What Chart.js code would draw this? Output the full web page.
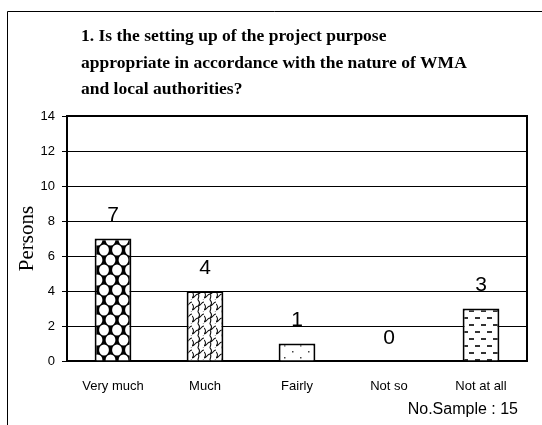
<!DOCTYPE html>
<html><head><meta charset="utf-8">
<script src="https://cdn.jsdelivr.net/npm/chart.js@4"></script>
<style>html,body{margin:0;padding:0;background:#fff;overflow:hidden}#wrap{position:absolute;left:0;top:0;width:542px;height:425px}</style>
</head><body><div id="wrap"><canvas id="c" width="542" height="425"></canvas></div>
<script>
const categories = ['Very much', 'Much', 'Fairly', 'Not so', 'Not at all'];
const persons = [7, 4, 1, 0, 3];
const yTicks = [0, 2, 4, 6, 8, 10, 12, 14];
const titleLines = ['1. Is the setting up of the project purpose', 'appropriate in accordance with the nature of WMA', 'and local authorities?'];
const yAxisTitle = 'Persons';
const sampleNote = 'No.Sample : 15';

const canvas = document.getElementById('c');
const ctx = canvas.getContext('2d');

function makePattern(w, h, draw) {
  const c = document.createElement('canvas');
  c.width = w; c.height = h;
  const g = c.getContext('2d');
  g.fillStyle = '#fff'; g.fillRect(0, 0, w, h);
  draw(g);
  return ctx.createPattern(c, 'repeat');
}
const patDiamond = makePattern(13, 20, g => {
  g.fillStyle = '#000'; g.fillRect(0, 0, 13, 20);
  g.fillStyle = '#fff';
  [[6.5,0],[0,10],[13,10],[6.5,20]].forEach(p => {
    g.beginPath(); g.ellipse(p[0], p[1], 4.9, 5.6, 0, 0, Math.PI * 2); g.fill();
  });
});
const patWeave = makePattern(12, 12, g => {
  g.strokeStyle = '#111'; g.lineWidth = 1.1;
  g.beginPath();
  g.moveTo(0, 10); g.bezierCurveTo(3, 10, 3, 6, 6, 6); g.bezierCurveTo(9, 6, 9, 2, 12, 2);
  g.moveTo(-6, 4); g.bezierCurveTo(-3, 4, -3, 0, 0, 0);
  g.moveTo(6, 16); g.bezierCurveTo(9, 16, 9, 12, 12, 12);
  g.moveTo(0, 4); g.bezierCurveTo(2, 6, 2, 8, 0, 10);
  g.moveTo(6, 6); g.bezierCurveTo(8, 8, 6, 10, 6, 12);
  g.moveTo(6, 0); g.bezierCurveTo(8, 2, 8, 4, 6, 6);
  g.stroke();
});
const patDots = makePattern(16, 12, g => {
  g.fillStyle = '#444';
  g.fillRect(4, 3, 1.5, 1.5); g.fillRect(12, 9, 1.5, 1.5);
});
const patDash = makePattern(12, 14, g => {
  g.fillStyle = '#333';
  g.fillRect(1, 2, 5, 2); g.fillRect(7, 9, 5, 2);
});
const fills = [patDiamond, patWeave, patDots, '#fff', patDash];

const deco = {
  id: 'deco',
  afterDraw(chart) {
    const a = chart.chartArea;
    const c = chart.ctx;
    c.save();
    c.strokeStyle = '#000'; c.lineWidth = 1;
    c.beginPath(); c.moveTo(7.5, 425); c.lineTo(7.5, 11.5); c.lineTo(542, 11.5); c.stroke();
    c.lineWidth = 2;
    c.beginPath(); c.moveTo(a.left, a.top); c.lineTo(a.right, a.top); c.lineTo(a.right, a.bottom); c.stroke();
    const meta = chart.getDatasetMeta(0);
    c.fillStyle = '#000';
    c.font = '21px "Liberation Sans", Arial, sans-serif';
    c.textAlign = 'center'; c.textBaseline = 'middle';
    meta.data.forEach((bar, i) => c.fillText(String(persons[i]), bar.x, bar.y - 23));
    c.font = 'bold 17.5px "Liberation Serif", "Times New Roman", serif';
    c.textAlign = 'left'; c.textBaseline = 'alphabetic';
    titleLines.forEach((t, i) => c.fillText(t, 81, 41 + i * 26.5));
    c.font = '16px "Liberation Sans", Arial, sans-serif';
    c.textAlign = 'right'; c.textBaseline = 'middle';
    c.fillText(sampleNote, 518, 410);
    c.restore();
  }
};

new Chart(ctx, {
  type: 'bar',
  data: {
    labels: categories,
    datasets: [{
      data: persons,
      backgroundColor: fills,
      borderColor: '#000',
      borderWidth: 2,
      barPercentage: 0.4,
      categoryPercentage: 1
    }]
  },
  options: {
    responsive: false,
    animation: false,
    devicePixelRatio: 1,
    layout: { padding: { left: 0, top: 116, right: 15, bottom: 0 } },
    plugins: { legend: { display: false }, tooltip: { enabled: false }, title: { display: false } },
    scales: {
      x: {
        grid: { display: false },
        border: { color: '#000', width: 2 },
        ticks: { color: '#000', font: { family: '"Liberation Sans", Arial, sans-serif', size: 13 }, padding: 10, maxRotation: 0, autoSkip: false },
        afterFit(s) { s.height = 64; }
      },
      y: {
        min: 0, max: 14,
        afterBuildTicks(s) { s.ticks = yTicks.map(v => ({ value: v })); },
        grid: { color: '#000', lineWidth: 1, tickLength: 5, drawTicks: true },
        border: { color: '#000', width: 2 },
        ticks: { color: '#000', font: { family: '"Liberation Sans", Arial, sans-serif', size: 13 }, padding: 7 },
        title: { display: true, text: yAxisTitle, color: '#000', font: { family: '"Liberation Serif", "Times New Roman", serif', size: 21 }, padding: { top: 15, bottom: 0 } },
        afterFit(s) { s.width = 67; }
      }
    }
  },
  plugins: [deco]
});
</script>
</body></html>
